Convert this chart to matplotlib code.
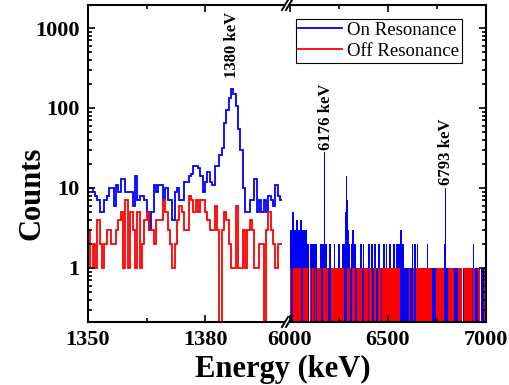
import numpy as np
import matplotlib
matplotlib.use("Agg")
import matplotlib.pyplot as plt
from matplotlib.lines import Line2D

plt.rcParams['font.family'] = ['Liberation Serif', 'DejaVu Serif']
plt.rcParams['font.weight'] = 'bold'

# low energy window, 0.6 keV bins from 1350 keV
left_start = 1350.0
left_width = 0.6
blue_left = [10, 10, 9, 8, 7, 5, 5, 7, 8, 10,
             10, 6, 11, 9, 13, 13, 9, 9, 9, 6,
             14, 7, 8, 8, 7, 5, 3, 5, 11, 9,
             11, 11, 7, 10, 7, 7, 4, 9, 10, 7,
             7, 12, 12, 14, 15, 19, 19, 18, 14, 9,
             12, 16, 12, 11, 19, 19, 26, 32, 65, 95,
             133, 175, 150, 105, 55, 30, 10, 5, 5, 7,
             7, 13, 5, 7, 5, 7, 5, 8, 7, 6,
             11, 8, 7]
red_left = [3, 1, 2, 1, 4, 2, 1, 2, 3, 3,
            2, 2, 3, 4, 5, 1, 7, 1, 5, 3,
            1, 5, 1, 2, 4, 5, 3, 3, 2, 4,
            4, 4, 7, 5, 3, 2, 1, 2, 4, 6,
            5, 3, 3, 8, 7, 5, 7, 5, 7, 7,
            5, 4, 3, 3, 6, 3, 0, 3, 5, 4,
            2, 1, 1, 6, 1, 1, 3, 1, 3, 4,
            3, 1, 1, 2, 2, 0, 3, 5, 3, 2,
            1, 2, 2]

# high energy window, 5 keV bins from 6000 keV
right_start = 6000.0
right_width = 5.0
blue_right = [3, 3, 5, 5, 3, 3, 4, 4, 3, 3, 4, 4, 3, 3, 3, 3, 3, 2, 2, 0,
              2, 2, 2, 2, 2, 2, 2, 2, 1, 1, 1, 2, 2, 2, 2, 28, 2, 2, 1, 1,
              2, 2, 1, 1, 1, 2, 1, 1, 1, 2, 2, 1, 1, 2, 2, 2, 5, 14, 7, 3,
              2, 1, 2, 3, 3, 2, 2, 1, 1, 1, 1, 2, 2, 1, 2, 2, 1, 1, 1, 1,
              2, 2, 1, 2, 2, 1, 2, 2, 1, 1, 2, 2, 1, 1, 1, 2, 2, 1, 2, 1,
              1, 2, 2, 1, 1, 2, 2, 1, 2, 2, 2, 2, 3, 3, 2, 2, 1, 1, 1, 1,
              1, 1, 1, 1, 2, 2, 1, 2, 2, 1, 2, 1, 1, 1, 1, 1, 1, 1, 1, 1,
              2, 1, 1, 1, 1, 1, 1, 1, 1, 1, 1, 1, 1, 1, 1, 1, 1, 2, 10, 1,
              1, 1, 1, 1, 1, 1, 1, 1, 1, 1, 1, 1, 1, 1, 1, 1, 0, 1, 1, 1,
              1, 1, 1, 1, 1, 1, 1, 2, 1, 1, 1, 1, 1, 1, 0, 1, 1, 1, 1, 1]
red_right = [1, 0, 0, 1, 1, 1, 1, 1, 1, 1, 1, 0, 0, 1, 1, 1, 1, 1, 0, 0,
             1, 0, 1, 1, 0, 1, 1, 0, 1, 1, 1, 1, 0, 0, 1, 1, 1, 1, 1, 0,
             0, 0, 1, 1, 1, 1, 1, 1, 1, 1, 1, 1, 1, 1, 1, 0, 0, 0, 1, 1,
             1, 0, 0, 1, 1, 1, 0, 0, 1, 1, 1, 1, 1, 0, 0, 1, 1, 1, 1, 1,
             0, 1, 1, 1, 0, 0, 1, 1, 0, 0, 1, 1, 1, 0, 1, 1, 1, 1, 1, 1,
             1, 1, 1, 1, 1, 1, 1, 1, 1, 1, 1, 1, 0, 0, 0, 0, 0, 0, 0, 0,
             0, 1, 0, 0, 0, 1, 1, 0, 0, 1, 1, 1, 1, 1, 1, 1, 1, 1, 1, 1,
             1, 1, 1, 1, 1, 0, 0, 0, 0, 1, 1, 1, 1, 1, 1, 1, 1, 0, 0, 0,
             0, 1, 1, 1, 1, 1, 1, 0, 0, 0, 0, 1, 1, 1, 1, 1, 0, 0, 1, 1,
             1, 1, 1, 1, 1, 1, 0, 1, 1, 0, 0, 0, 1, 1, 0, 0, 0, 0, 1, 1]

peak_labels = ["1380 keV", "6176 keV", "6793 keV"]
series_names = ["On Resonance", "Off Resonance"]

BLUE = "#0000ff"
RED = "#ff0000"
W, H = 510.0, 385.0


def edges_for(start, width, n):
    return start + width * np.arange(n + 1)


fig = plt.figure(figsize=(5.1, 3.85), dpi=100)
ax1 = fig.add_axes([88 / W, 63 / H, 196 / W, 317 / H])
ax2 = fig.add_axes([290 / W, 63 / H, 196 / W, 317 / H], sharey=ax1)

for ax in (ax1, ax2):
    ax.set_yscale('log')

# left window: plain step lines
el = edges_for(left_start, left_width, len(blue_left))
hb = ax1.stairs(blue_left, el, baseline=None, color=BLUE, lw=1.3)
hr = ax1.stairs(red_left, el, baseline=None, color=RED, lw=1.3)

# right window: bins are so dense they read as filled areas
er = edges_for(right_start, right_width, len(blue_right))
for vals, col in ((blue_right, BLUE), (red_right, RED)):
    v = np.array(vals, dtype=float)
    v = np.where(v > 0, v, 1e-3)
    ax2.fill_between(er, np.append(v, v[-1]), 1e-3, step='post',
                     color=col, lw=0)

ax1.set_ylim(0.211, 1940)
ax1.set_xlim(1350, 1400.2)
ax2.set_xlim(6000, 7000)

ax1.set_xticks([1350, 1380])
ax1.set_xticks([1365], minor=True)
ax2.set_xticks([6000, 6500, 7000])
ax2.set_xticks([6250, 6750], minor=True)
ax1.set_yticks([1, 10, 100, 1000])
ax1.set_yticklabels(["1", "10", "100", "1000"])

ax1.spines['right'].set_visible(False)
ax2.spines['left'].set_visible(False)
for ax in (ax1, ax2):
    for sp in ax.spines.values():
        sp.set_linewidth(1.5)
    ax.tick_params(which='both', direction='in', top=True, width=1.2,
                   labelsize=16, pad=6)
    ax.tick_params(which='major', length=5)
    ax.tick_params(which='minor', length=3)
ax1.tick_params(axis='y', which='both', left=True, right=False)
ax2.tick_params(axis='y', which='both', left=False, right=True,
                labelleft=False)
for ax in (ax1, ax2):
    for lab in ax.get_xticklabels() + ax.get_yticklabels():
        lab.set_fontweight('bold')

# break marks on both spines
for xc in (285, 289):
    for yc in (322, 5):
        fig.add_artist(Line2D([(xc - 3) / W, (xc + 3) / W],
                              [1 - (yc + 5) / H, 1 - (yc - 5) / H],
                              color='black', lw=1.4,
                              transform=fig.transFigure, clip_on=False))

# peak labels
i_peak = int(np.argmax(blue_left))
ax1.text(el[i_peak] + left_width / 2, blue_left[i_peak] * 1.35, peak_labels[0],
         rotation=90, ha='center', va='bottom', fontsize=12, fontweight='bold')
for j, lab in ((35, peak_labels[1]), (158, peak_labels[2])):
    ax2.text(er[j] + 8, blue_right[j] * 1.08, lab,
             rotation=90, ha='center', va='bottom', fontsize=12,
             fontweight='bold')

leg = fig.legend([Line2D([], [], color=BLUE, lw=1.3),
                  Line2D([], [], color=RED, lw=1.3)], series_names,
                 loc='upper right', bbox_to_anchor=(462 / W, 1 - 19 / H),
                 prop={'family': 'Liberation Serif', 'size': 13.5,
                       'weight': 'normal'},
                 fancybox=False, framealpha=1, edgecolor='black',
                 borderpad=0.15, labelspacing=0.2, handlelength=2.3,
                 handletextpad=0.3, borderaxespad=0)
leg.get_frame().set_linewidth(0.8)

fig.text(32 / W, 1 - 193 / H, "Counts", rotation=90, ha='center',
         va='center', fontsize=22, fontweight='bold')
fig.text(283 / W, 1 - 369 / H, "Energy (keV)", ha='center', va='center',
         fontsize=22, fontweight='bold')

fig.savefig("out.png", dpi=100)
